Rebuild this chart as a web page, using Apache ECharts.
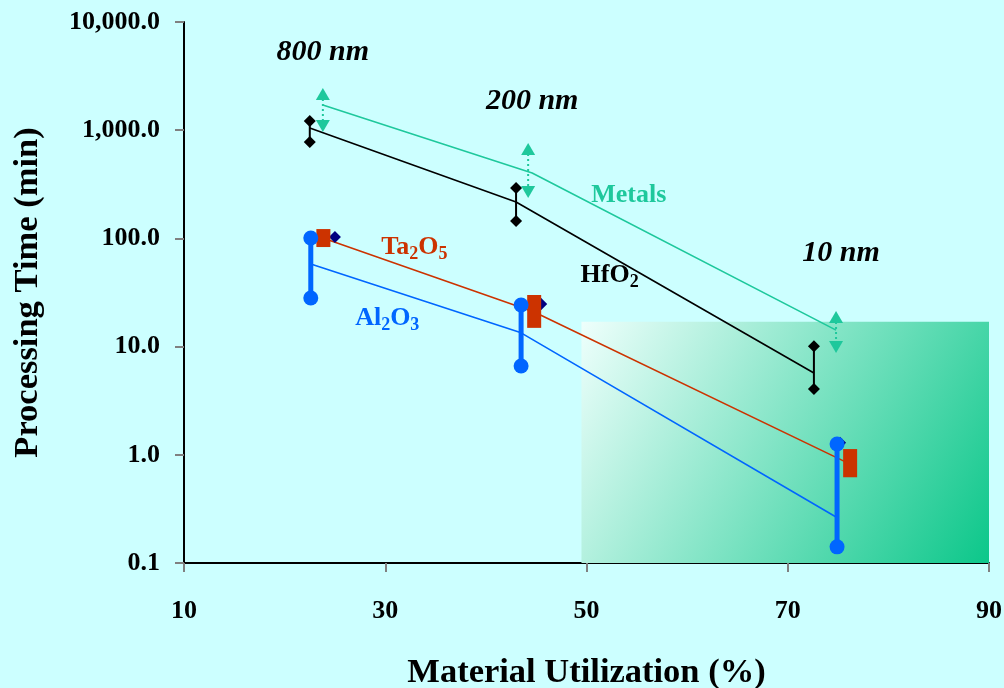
<!DOCTYPE html>
<html><head><meta charset="utf-8">
<script src="https://cdn.jsdelivr.net/npm/echarts@6/dist/echarts.min.js"></script>
<style>html,body{margin:0;padding:0;background:#ccffff}#c{width:1004px;height:688px}</style>
</head><body><div id="c"></div>
<script>
// Tick labels
const xTickValues = [10, 30, 50, 70, 90];
const xTickLabels = ['10', '30', '50', '70', '90'];
const yTickValues = [0.1, 1, 10, 100, 1000, 10000];
const yTickLabels = ['0.1', '1.0', '10.0', '100.0', '1,000.0', '10,000.0'];

// Trend lines (Material Utilization %, Processing Time min)
const metalsLineX = [23.8, 44.6, 74.8];
const metalsLineY = [1710, 402, 14.2];
const hfo2LineX = [22.5, 43.0, 72.6];
const hfo2LineY = [1048, 217, 5.7];
const ta2o5LineX = [23.8, 44.8, 76.2];
const ta2o5LineY = [101, 20.9, 0.82];
const al2o3LineX = [22.6, 43.5, 74.8];
const al2o3LineY = [57.9, 13.4, 0.266];

// Ranges
const metalsBarX = [23.8, 44.2, 74.8];
const metalsBarHigh = [2160, 670, 18.8];
const metalsBarLow = [1094, 268, 9.9];
const hfo2BarX = [22.5, 43.0, 72.6];
const hfo2BarHigh = [1216, 292, 10.1];
const hfo2BarLow = [778, 145, 4.06];
const ta2o5BarX = [23.85, 44.8, 76.2];
const ta2o5BarHigh = [122, 30.0, 1.13];
const ta2o5BarLow = [83.2, 14.9, 0.62];
const al2o3BarX = [22.6, 43.5, 74.9];
const al2o3BarHigh = [101, 24.2, 1.26];
const al2o3BarLow = [28.1, 6.62, 0.141];
const extraX = [25.0, 45.5, 75.2];
const extraY = [103, 24.8, 1.29];

// Shaded target region
const regionX = [49.5, 90];
const regionY = [0.1, 17];

// Annotations
const noteX = [23.8, 44.6, 75.3, 54.2, 52.3, 32.9, 30.2];
const noteY = [5280, 1862, 73.3, 252, 45.9, 83.2, 18.4];
const noteText = ['800 nm', '200 nm', '10 nm', 'Metals', 'HfO|2', 'Ta|2|O|5', 'Al|2|O|3'];

const FONT = 'Liberation Serif';
const C_METAL = '#1ec89c', C_HF = '#000000', C_TA = '#cc3300', C_AL = '#0066ff', C_NAVY = '#000080';

const zip = (xs, ys) => xs.map((x, i) => [x, ys[i]]);
const series = [];

series.push({
  type: 'line', data: [], silent: true, z: 1,
  markArea: {
    silent: true,
    itemStyle: { opacity: 1, color: new echarts.graphic.LinearGradient(0, 0, 1, 1, [
      { offset: 0, color: '#eefffc' }, { offset: 1, color: '#0cc78a' }]) },
    data: [[{ coord: [regionX[0], regionY[1]] }, { coord: [regionX[1], regionY[0]] }]]
  }
});

function trend(xs, ys, color) {
  series.push({ type: 'line', data: zip(xs, ys), symbol: 'none', z: 3,
    lineStyle: { color, width: 1.6 } });
}
trend(metalsLineX, metalsLineY, C_METAL);
trend(hfo2LineX, hfo2LineY, C_HF);
trend(ta2o5LineX, ta2o5LineY, C_TA);
trend(al2o3LineX, al2o3LineY, C_AL);

// navy diamonds (beneath range bars)
series.push({ type: 'scatter', data: zip(extraX, extraY), symbol: 'diamond', symbolSize: 12, z: 4,
  itemStyle: { color: C_NAVY, opacity: 1 } });

metalsBarX.forEach((x, i) => series.push({
  type: 'line', z: 5, symbol: 'triangle', symbolSize: [14, 12],
  itemStyle: { color: C_METAL },
  lineStyle: { color: C_METAL, width: 2, type: [2, 3] },
  data: [{ value: [x, metalsBarHigh[i]], symbolRotate: 0 }, { value: [x, metalsBarLow[i]], symbolRotate: 180 }]
}));
hfo2BarX.forEach((x, i) => series.push({
  type: 'line', z: 5, symbol: 'diamond', symbolSize: 12,
  itemStyle: { color: C_HF }, lineStyle: { color: C_HF, width: 2 },
  data: [[x, hfo2BarHigh[i]], [x, hfo2BarLow[i]]]
}));
ta2o5BarX.forEach((x, i) => series.push({
  type: 'line', z: 6, symbol: 'none',
  lineStyle: { color: C_TA, width: 14, cap: 'butt' },
  data: [[x, ta2o5BarHigh[i]], [x, ta2o5BarLow[i]]]
}));
al2o3BarX.forEach((x, i) => series.push({
  type: 'line', z: 7, symbol: 'circle', symbolSize: 15,
  itemStyle: { color: C_AL }, lineStyle: { color: C_AL, width: 5 },
  data: [[x, al2o3BarHigh[i]], [x, al2o3BarLow[i]]]
}));

const noteColor = ['#000', '#000', '#000', C_METAL, '#000', C_TA, C_AL];
function fmt(t) {
  const parts = t.split('|');
  return parts.map((p, k) => (k % 2 ? '{s|' + p + '}' : '{m|' + p + '}')).join('');
}
noteText.forEach((t, i) => {
  const italic = i < 3;
  const col = noteColor[i];
  series.push({
    type: 'scatter', z: 10, symbolSize: 0, silent: true,
    itemStyle: { opacity: 1 },
    data: [[noteX[i], noteY[i]]],
    label: {
      show: true, position: 'inside', formatter: fmt(t), opacity: 1,
      textBorderWidth: 0,
      rich: {
        m: { fontFamily: FONT, fontWeight: 'bold', fontStyle: italic ? 'italic' : 'normal',
             fontSize: italic ? 30 : 26, color: col, lineHeight: 30, textBorderWidth: 0 },
        s: { fontFamily: FONT, fontWeight: 'bold', fontSize: 18, color: col, lineHeight: 30,
             padding: [15, 0, 0, 0], textBorderWidth: 0 }
      }
    }
  });
});

const chart = echarts.init(document.getElementById('c'));
chart.setOption({
  animation: false,
  backgroundColor: '#ccffff',
  grid: { left: 184, right: 15, top: 22, bottom: 125, outerBoundsMode: 'none', containLabel: false },
  xAxis: {
    type: 'value', min: 10, max: 90, interval: 20,
    name: 'Material Utilization (%)', nameLocation: 'middle', nameGap: 93,
    nameTextStyle: { fontFamily: FONT, fontWeight: 'bold', fontSize: 34.5, color: '#000' },
    axisLine: { lineStyle: { color: '#000', width: 2 } },
    axisTick: { show: true, length: 9, lineStyle: { color: '#808080', width: 2 } },
    splitLine: { show: false },
    axisLabel: { margin: 35, fontFamily: FONT, fontWeight: 'bold', fontSize: 26, color: '#000',
      formatter: v => xTickLabels[xTickValues.indexOf(v)] }
  },
  yAxis: {
    type: 'log', logBase: 10, min: 0.1, max: 10000,
    name: 'Processing Time (min)', nameLocation: 'middle', nameGap: 138,
    nameTextStyle: { fontFamily: FONT, fontWeight: 'bold', fontSize: 34.5, color: '#000' },
    axisLine: { lineStyle: { color: '#000', width: 2 } },
    axisTick: { show: true, length: 9, lineStyle: { color: '#808080', width: 2 } },
    splitLine: { show: false }, minorTick: { show: false },
    axisLabel: { margin: 24, fontFamily: FONT, fontWeight: 'bold', fontSize: 26, color: '#000',
      formatter: v => {
        const k = yTickValues.findIndex(t => Math.abs(Math.log10(t) - Math.log10(v)) < 1e-6);
        return k >= 0 ? yTickLabels[k] : '';
      } }
  },
  series
});
</script></body></html>
